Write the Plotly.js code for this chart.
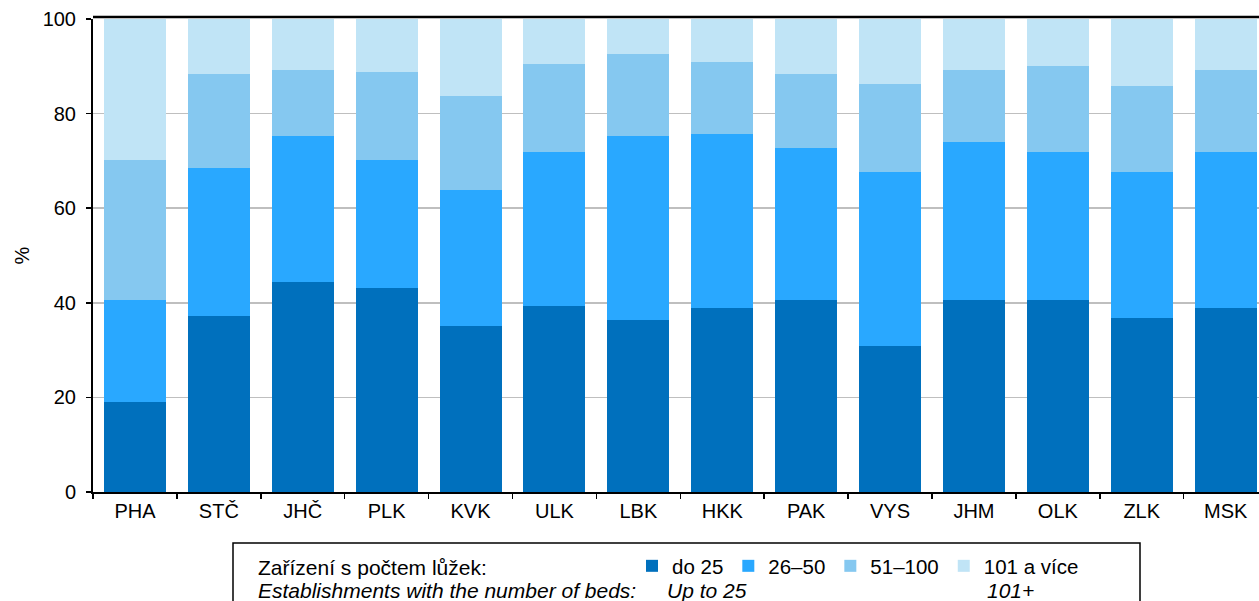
<!DOCTYPE html>
<html>
<head>
<meta charset="utf-8">
<script src="https://cdn.plot.ly/plotly-3.0.1.min.js"></script>
<style>html,body{margin:0;padding:0;background:#fff;}#chart{width:1259px;height:601px;}</style>
</head>
<body>
<div id="chart"></div>
<script>
const regions = ["PHA","STČ","JHČ","PLK","KVK","ULK","LBK","HKK","PAK","VYS","JHM","OLK","ZLK","MSK"];
const seriesNames = ["do 25","26–50","51–100","101 a více"];
const upTo25 = [19.0,37.2,44.4,43.1,35.1,39.3,36.4,38.9,40.6,30.9,40.6,40.6,36.8,38.9];
const beds26to50 = [21.6,31.3,30.9,27.1,28.7,32.6,38.9,36.8,32.1,36.8,33.4,31.3,30.9,33.0];
const beds51to100 = [29.6,19.9,13.9,18.6,19.9,18.6,17.3,15.2,15.7,18.6,15.2,18.2,18.1,17.3];
const beds101plus = [29.8,11.6,10.8,11.2,16.3,9.5,7.4,9.1,11.6,13.7,10.8,9.9,14.2,10.8];
const colors = ["#0070BD","#29A8FF","#85C8F0","#C0E4F6"];

const values = [upTo25, beds26to50, beds51to100, beds101plus];
const font = "Liberation Sans, Arial, sans-serif";

const traces = values.map((v,i)=>({
  type:"bar", x:regions, y:v, name:seriesNames[i],
  marker:{color:colors[i], line:{width:0}},
  hoverinfo:"x+y+name"
}));

const L = 93, W = 1259, H = 601, T = 19, B = 109;
const pw = W - L, ph = H - T - B;
const px = x => (x - L)/pw;
const py = y => (H - B - y)/ph;

const layout = {
  width: W, height: H,
  margin:{l:L, r:0, t:T, b:B, pad:0},
  barmode:"stack", bargap:0.26,
  paper_bgcolor:"#fff", plot_bgcolor:"#fff",
  font:{family:font, size:20, color:"#000"},
  showlegend:true,
  legend:{orientation:"h", x:px(632), y:py(546), xanchor:"left", yanchor:"top",
    bgcolor:"rgba(0,0,0,0)", borderwidth:0, font:{family:font, size:20.5, color:"#000"},
    traceorder:"normal"},
  xaxis:{type:"category", range:[-0.5, -0.5 + pw/83.9], fixedrange:true,
    showline:true, linecolor:"#000", linewidth:2,
    ticks:"outside", tickson:"boundaries", ticklen:5, tickcolor:"#000", tickwidth:1.5,
    tickfont:{family:font, size:20, color:"#000"}, showgrid:false},
  yaxis:{range:[0,100], dtick:20, fixedrange:true,
    showline:true, linecolor:"#000", linewidth:2,
    ticks:"outside", ticklen:5, tickcolor:"#000", tickwidth:1.5, ticklabelstandoff:6,
    tickfont:{family:font, size:20, color:"#000"},
    showgrid:true, gridcolor:"#BFBFBF", gridwidth:1.5, zeroline:false,
    title:{text:"%", font:{family:font, size:20, color:"#000"}, standoff:8}},
  shapes:[
    {type:"line", xref:"paper", yref:"paper", x0:0, x1:1, y0:1.004, y1:1.004, line:{color:"#000", width:2.5}},
    {type:"rect", xref:"paper", yref:"paper", x0:px(233), x1:px(1140), y0:py(543), y1:py(640), line:{color:"#000", width:1.5}}
  ],
  annotations:[
    {xref:"paper", yref:"paper", x:px(256), y:py(567), xanchor:"left", yanchor:"middle", showarrow:false,
      text:"Zařízení s počtem lůžek:", font:{family:font, size:21, color:"#000"}},
    {xref:"paper", yref:"paper", x:px(256), y:py(590), xanchor:"left", yanchor:"middle", showarrow:false,
      text:"<i>Establishments with the number of beds:</i>", font:{family:font, size:21, color:"#000"}},
    {xref:"paper", yref:"paper", x:px(665), y:py(590), xanchor:"left", yanchor:"middle", showarrow:false,
      text:"<i>Up to 25</i>", font:{family:font, size:21, color:"#000"}},
    {xref:"paper", yref:"paper", x:px(985), y:py(590), xanchor:"left", yanchor:"middle", showarrow:false,
      text:"<i>101+</i>", font:{family:font, size:21, color:"#000"}}
  ]
};

Plotly.newPlot("chart", traces, layout, {displayModeBar:false, staticPlot:true});
</script>
</body>
</html>
